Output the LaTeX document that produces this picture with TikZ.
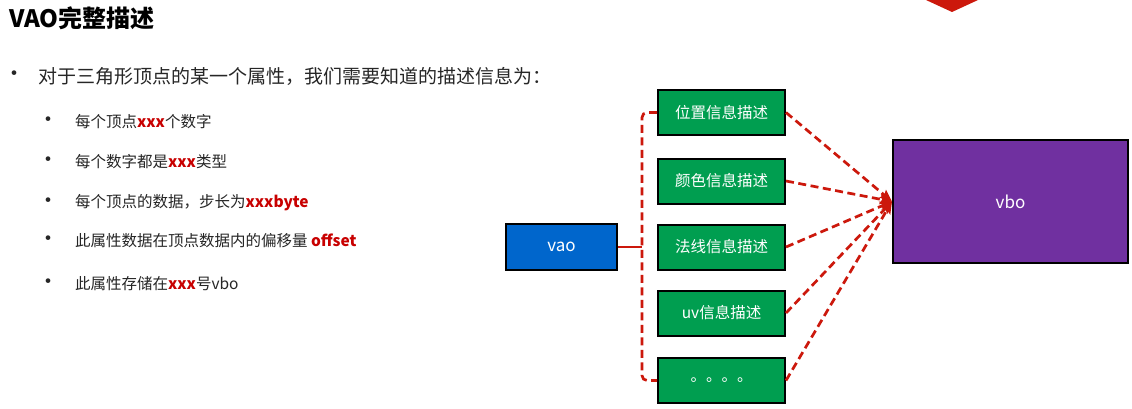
\documentclass[tikz,border=0pt]{standalone}
\usepackage{fontspec}
\setmainfont{Noto Sans CJK SC}
\usetikzlibrary{arrows.meta}
\definecolor{boxgreen}{RGB}{0,158,80}
\definecolor{boxblue}{RGB}{0,102,204}
\definecolor{boxpurple}{RGB}{112,48,160}
\definecolor{linkred}{RGB}{204,24,12}
\definecolor{hlred}{RGB}{200,0,0}
\definecolor{bodytext}{RGB}{38,38,38}
\newcommand{\hlword}[1]{\textbf{\textcolor{hlred}{#1}}}
\begin{document}
\begin{tikzpicture}[x=1pt,y=-1pt,
  box/.style={draw=black, line width=2pt, inner sep=0pt, text=white,
              font=\fontsize{15.5}{18}\selectfont},
  attrbox/.style={box, fill=boxgreen, minimum width=127pt, minimum height=45pt},
  bodyline/.style={anchor=west, inner sep=0pt, text=bodytext, font=\fontsize{15.5}{18}\selectfont},
  dotmark/.style={anchor=center, inner sep=0pt, text=bodytext, font=\fontsize{22}{24}\selectfont},
  link/.style={draw=linkred, line width=2.7pt, dash pattern=on 8pt off 4.5pt},
  linkarrow/.style={link, -{Stealth[length=12pt,width=10pt,inset=2pt]}}
]
\useasboundingbox (0,0) rectangle (1132,409);
\fill[white] (0,0) rectangle (1132,409);

% marker at the top edge
\fill[linkred] (926,0) -- (978,0) -- (952,12) -- cycle;

% title
\node[anchor=west, inner sep=0pt, font=\fontsize{24}{28}\selectfont\bfseries, text=black] (title) at (9,18) {VAO完整描述};

% main bullet
\node[dotmark] (m0) at (15,76) {•};
\node[bodyline, font=\fontsize{19}{22}\selectfont] (l0) at (38,76) {对于三角形顶点的某一个属性，我们需要知道的描述信息为：};

% sub bullets
\node[dotmark] (d1) at (48,122) {•};
\node[bodyline] (l1) at (75,122) {每个顶点\hlword{xxx}个数字};
\node[dotmark] (d2) at (48,162) {•};
\node[bodyline] (l2) at (75,162) {每个数字都是\hlword{xxx}类型};
\node[dotmark] (d3) at (48,203) {•};
\node[bodyline] (l3) at (75,203) {每个顶点的数据，步长为\hlword{xxxbyte}};
\node[dotmark] (d4) at (48,241) {•};
\node[bodyline] (l4) at (75,241) {此属性数据在顶点数据内的偏移量 \hlword{offset}};
\node[dotmark] (d5) at (48,284) {•};
\node[bodyline] (l5) at (75,284) {此属性存储在\hlword{xxx}号vbo};

% diagram boxes
\node[box, fill=boxblue, minimum width=111pt, minimum height=46pt, font=\fontsize{17}{20}\selectfont] (vao) at (561.5,247) {vao};
\node[attrbox] (b1) at (721.5,112.5) {位置信息描述};
\node[attrbox] (b2) at (721.5,181) {颜色信息描述};
\node[attrbox] (b3) at (721.5,247) {法线信息描述};
\node[attrbox] (b4) at (721.5,313) {uv信息描述};
\node[attrbox] (b5) at (721.5,380.5) {。。。。};
\node[box, fill=boxpurple, minimum width=235pt, minimum height=123pt, font=\fontsize{17}{20}\selectfont] (vbo) at (1010.5,201.5) {vbo};

% vao to the attribute descriptions
\coordinate (fork) at (642,247);
\draw[draw=linkred, line width=2.7pt] (vao.east) -- (fork);
\draw[link, rounded corners=5pt] (b1.west) -| (fork) |- (b5.west);

% attribute descriptions to vbo
\draw[linkarrow] (b1.east) -- (vbo.west);
\draw[linkarrow] (b2.east) -- (vbo.west);
\draw[linkarrow] (b3.east) -- (vbo.west);
\draw[linkarrow] (b4.east) -- (vbo.west);
\draw[linkarrow] (b5.east) -- (vbo.west);
\end{tikzpicture}
\end{document}
